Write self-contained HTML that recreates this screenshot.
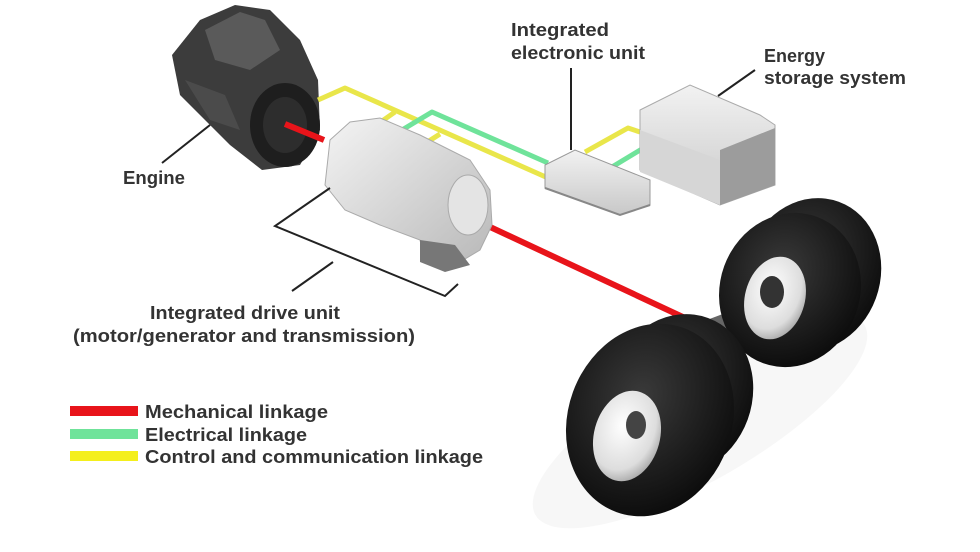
<!DOCTYPE html>
<html><head><meta charset="utf-8"><style>
html,body{margin:0;padding:0;background:#fff;}
svg{display:block;}
text{font-family:"Liberation Sans",Arial,sans-serif;font-size:18px;font-weight:bold;fill:#333;}
</style></head><body>
<svg width="980" height="552" viewBox="0 0 980 552" xmlns="http://www.w3.org/2000/svg">
<defs>
<radialGradient id="tire" cx="0.4" cy="0.4" r="0.7"><stop offset="0" stop-color="#3a3a3a"/><stop offset="1" stop-color="#080808"/></radialGradient>
<radialGradient id="rim" cx="0.4" cy="0.4" r="0.7"><stop offset="0" stop-color="#fff"/><stop offset="0.7" stop-color="#ddd"/><stop offset="1" stop-color="#999"/></radialGradient>
<linearGradient id="trans" x1="0" y1="0" x2="1" y2="1"><stop offset="0" stop-color="#f4f4f4"/><stop offset="1" stop-color="#b8b8b8"/></linearGradient>
<linearGradient id="box" x1="0" y1="0" x2="0" y2="1"><stop offset="0" stop-color="#f2f2f2"/><stop offset="1" stop-color="#c8c8c8"/></linearGradient>
</defs>

<ellipse cx="700" cy="420" rx="190" ry="60" fill="#f7f7f7" transform="rotate(-30 700 420)"/>

<path d="M200 20 L235 5 L270 10 L300 40 L318 80 L320 130 L300 165 L262 170 L230 145 L205 120 L180 95 L172 55 Z" fill="#3c3c3c"/>
<path d="M205 30 L240 12 L265 20 L280 50 L250 70 L215 60 Z" fill="#5a5a5a"/>
<ellipse cx="285" cy="125" rx="35" ry="42" fill="#1e1e1e"/>
<ellipse cx="285" cy="125" rx="22" ry="28" fill="#2d2d2d"/>
<path d="M185 80 L225 95 L240 130 L210 120 Z" fill="#4b4b4b"/>

<g fill="none" stroke-width="5" stroke-linejoin="round">
<polyline points="318,100 345,88 548,178" stroke="#e9e64a"/>
<polyline points="372,128 395,112" stroke="#e9e64a"/>
<polyline points="418,148 440,134" stroke="#e9e64a"/>
<polyline points="402,130 432,112 548,163" stroke="#6fe39a"/>
<polyline points="585,152 628,128 640,132" stroke="#e9e64a"/>
<polyline points="612,167 665,135" stroke="#6fe39a"/>
</g>

<line x1="285" y1="124" x2="324" y2="140" stroke="#e8141a" stroke-width="6"/>
<line x1="488" y1="226" x2="700" y2="325" stroke="#e8141a" stroke-width="6"/>

<path d="M330 140 L350 122 L380 118 L420 135 L470 160 L490 190 L492 225 L480 250 L455 265 L425 262 L420 240 L380 225 L345 210 L325 185 Z" fill="url(#trans)" stroke="#aaa" stroke-width="1"/>
<path d="M420 240 L455 245 L470 265 L445 272 L420 262 Z" fill="#777"/>
<ellipse cx="468" cy="205" rx="20" ry="30" fill="#e4e4e4" stroke="#aaa"/>

<path d="M545 165 L575 150 L650 180 L650 205 L620 215 L545 188 Z" fill="url(#box)" stroke="#999"/>
<path d="M545 188 L620 215 L650 205" fill="none" stroke="#888" stroke-width="2"/>

<path d="M640 110 L690 85 L760 115 L775 125 L775 185 L720 205 L640 170 Z" fill="url(#box)" stroke="#aaa"/>
<path d="M720 150 L775 128 L775 185 L720 205 Z" fill="#9c9c9c"/>
<path d="M640 130 L720 160 L720 205 L640 172 Z" fill="#d6d6d6"/>

<line x1="700" y1="330" x2="780" y2="300" stroke="#666" stroke-width="14"/>

<ellipse cx="812" cy="275" rx="68" ry="78" fill="url(#tire)" transform="rotate(20 812 275)"/>
<ellipse cx="790" cy="290" rx="70" ry="78" fill="url(#tire)" transform="rotate(20 790 290)"/>
<ellipse cx="775" cy="298" rx="30" ry="42" fill="url(#rim)" transform="rotate(15 775 298)"/>
<ellipse cx="772" cy="292" rx="12" ry="16" fill="#333"/>

<ellipse cx="680" cy="395" rx="72" ry="82" fill="url(#tire)" transform="rotate(20 680 395)"/>
<ellipse cx="650" cy="420" rx="82" ry="98" fill="url(#tire)" transform="rotate(20 650 420)"/>
<ellipse cx="627" cy="436" rx="33" ry="46" fill="url(#rim)" transform="rotate(15 627 436)"/>
<ellipse cx="636" cy="425" rx="10" ry="14" fill="#444"/>

<g stroke="#222" stroke-width="2" fill="none">
<line x1="162" y1="163" x2="210" y2="125"/>
<polyline points="330,188 275,226 445,296 458,284"/>
<line x1="333" y1="262" x2="292" y2="291"/>
<line x1="571" y1="68" x2="571" y2="150"/>
<line x1="755" y1="70" x2="718" y2="96"/>
</g>

<text x="123" y="184" textLength="62" lengthAdjust="spacingAndGlyphs">Engine</text>
<text x="150" y="319" textLength="190" lengthAdjust="spacingAndGlyphs">Integrated drive unit</text>
<text x="73" y="342" textLength="342" lengthAdjust="spacingAndGlyphs">(motor/generator and transmission)</text>
<text x="511" y="36" textLength="98" lengthAdjust="spacingAndGlyphs">Integrated</text>
<text x="511" y="59" textLength="134" lengthAdjust="spacingAndGlyphs">electronic unit</text>
<text x="764" y="62" textLength="61" lengthAdjust="spacingAndGlyphs">Energy</text>
<text x="764" y="84" textLength="142" lengthAdjust="spacingAndGlyphs">storage system</text>

<rect x="70" y="406" width="68" height="10" fill="#e8141a"/>
<rect x="70" y="429" width="68" height="10" fill="#6fe39a"/>
<rect x="70" y="451" width="68" height="10" fill="#f4ef1c"/>
<text x="145" y="418" textLength="183" lengthAdjust="spacingAndGlyphs">Mechanical linkage</text>
<text x="145" y="441" textLength="162" lengthAdjust="spacingAndGlyphs">Electrical linkage</text>
<text x="145" y="463" textLength="338" lengthAdjust="spacingAndGlyphs">Control and communication linkage</text>
</svg>
</body></html>
